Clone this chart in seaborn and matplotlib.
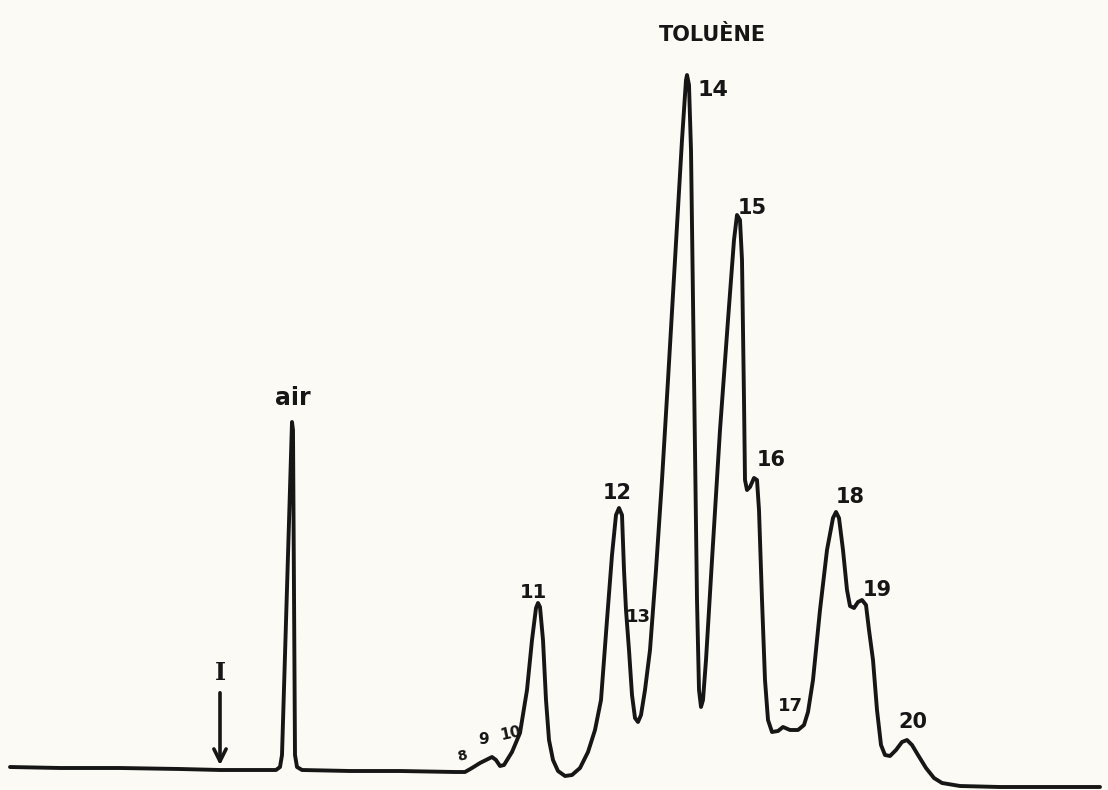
import matplotlib
matplotlib.use("Agg")
import matplotlib.pyplot as plt
import seaborn as sns
import pandas as pd

# Chromatogram trace (retention position, detector signal)
retention = [10, 60, 120, 180, 220, 260, 276, 280, 282, 292, 293, 295, 297, 302, 350, 400, 455, 465,
             472, 480, 486, 492, 496, 500, 504, 512, 520, 527, 532, 536, 538, 540, 543, 546, 549, 553,
             558, 565, 572, 580, 588, 595, 601, 607, 612, 616, 619, 622, 624, 626, 629, 632, 635, 638,
             641, 645, 650, 656, 662, 668, 675, 682, 686, 687, 689, 691, 693, 695, 697, 699, 701, 703,
             706, 712, 720, 728, 734, 737, 740, 742, 744, 745, 747, 750, 754, 757, 759, 762, 765, 768,
             772, 778, 783, 790, 798, 804, 808, 813, 820, 827, 833, 836, 839, 843, 847, 850, 854, 858,
             862, 866, 869, 873, 877, 881, 885, 890, 896, 902, 907, 912, 918, 926, 934, 942, 960, 1000,
             1050, 1100]
signal = [23, 22, 22, 21, 20, 20, 20, 23, 35, 368, 360, 35, 23, 20, 19, 19, 18, 18,
          22, 27, 30, 33, 30, 24, 25, 38, 57, 100, 150, 182, 187, 183, 150, 90, 50, 30,
          19, 14, 15, 22, 38, 60, 90, 170, 235, 275, 282, 275, 220, 180, 140, 95, 72, 68,
          75, 100, 140, 220, 310, 410, 530, 650, 710, 715, 705, 640, 490, 340, 190, 100, 83, 90,
          130, 230, 360, 470, 550, 575, 570, 530, 390, 310, 300, 303, 312, 310, 280, 190, 110, 70,
          58, 59, 63, 60, 60, 65, 78, 110, 180, 240, 272, 278, 272, 240, 200, 184, 182, 188,
          190, 185, 160, 130, 80, 45, 35, 34, 40, 48, 50, 45, 35, 22, 12, 7, 4, 3,
          3, 3]

peak_names = ["air", "8", "9", "10", "11", "12", "13", "14", "15", "16", "17", "18", "19", "20"]
compound_name = "TOLUÈNE"
injection_mark = "I"

df = pd.DataFrame({"retention": retention, "signal": signal})

sns.set_theme(style="white")
plt.rcParams["font.family"] = ["DejaVu Sans"]

paper = "#fbfaf4"
ink = "#161616"

fig = plt.figure(figsize=(11.08, 7.9), dpi=100, facecolor=paper)
ax = fig.add_axes([0, 0, 1, 1])
ax.set_facecolor(paper)

sns.lineplot(data=df, x="retention", y="signal", sort=False, estimator=None,
             color=ink, linewidth=2.8, ax=ax)
for ln in ax.get_lines():
    ln.set_solid_joinstyle("round")
    ln.set_solid_capstyle("round")

ax.set_xlim(0, 1108)
ax.set_ylim(0, 790)
ax.set_axis_off()

# Peak labels
label_pos = {
    "air": (293, 392, 17),
    "8": (462, 34, 10),
    "9": (484, 50, 11),
    "10": (511, 57, 11),
    "11": (533, 198, 14),
    "12": (617, 297, 15),
    "13": (638, 173, 13),
    "14": (713, 700, 16),
    "15": (752, 582, 15),
    "16": (771, 330, 15),
    "17": (790, 84, 13),
    "18": (850, 293, 15),
    "19": (877, 200, 15),
    "20": (913, 68, 15),
}
for name in peak_names:
    x, y, fs = label_pos[name]
    rot = 12 if name in ("8", "10") else 0
    ax.text(x, y, name, ha="center", va="center", fontsize=fs, fontweight="bold",
            color=ink, rotation=rot)

ax.text(712, 755, compound_name, ha="center", va="center", fontsize=15,
        fontweight="bold", color=ink)

# Injection marker
ax.text(220, 117, injection_mark, ha="center", va="center", fontsize=17,
        fontweight="bold", color=ink, family=["DejaVu Serif"])
ax.annotate("", xy=(220, 22), xytext=(220, 100),
            arrowprops=dict(arrowstyle="->", color=ink, lw=2.6, mutation_scale=22))

fig.savefig("out.png", dpi=100, facecolor=paper)
